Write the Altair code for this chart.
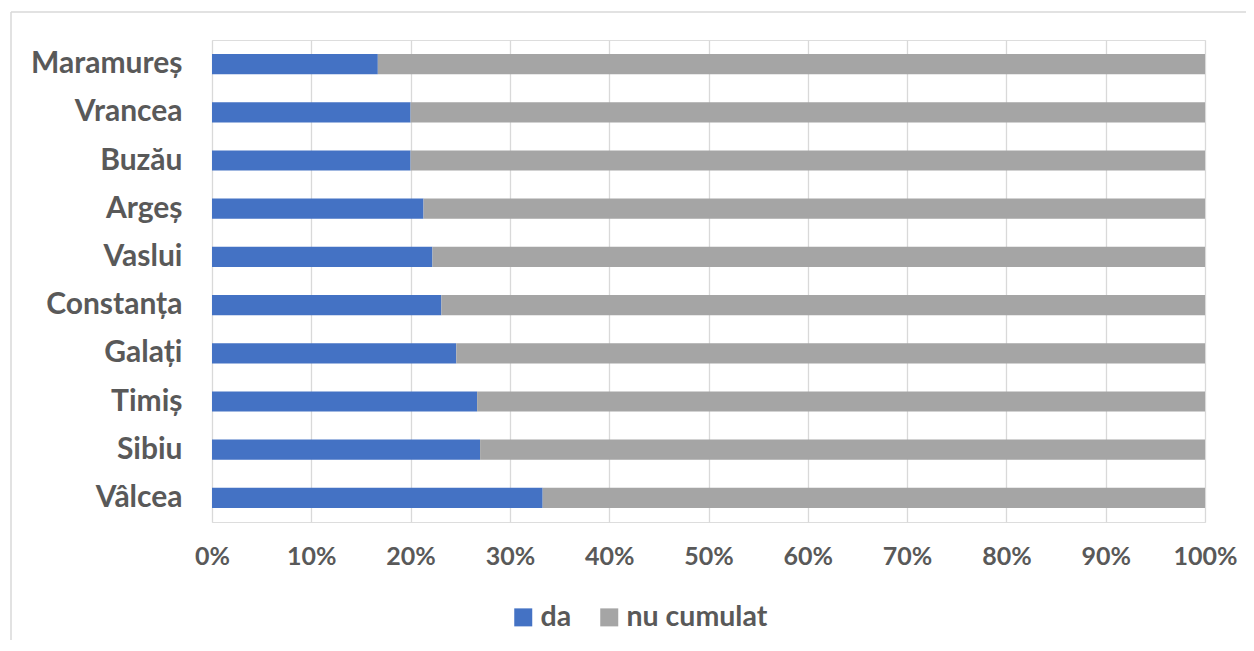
import altair as alt
import pandas as pd

judete = ["Maramureș", "Vrancea", "Buzău", "Argeș", "Vaslui",
          "Constanța", "Galați", "Timiș", "Sibiu", "Vâlcea"]
da = [16.7, 20.0, 20.0, 21.3, 22.2, 23.1, 24.6, 26.7, 27.0, 33.3]
nu_cumulat = [83.3, 80.0, 80.0, 78.7, 77.8, 76.9, 75.4, 73.3, 73.0, 66.7]
series = ["da", "nu cumulat"]
colors = ["#4472C4", "#A5A5A5"]

rows = []
for j, a, b in zip(judete, da, nu_cumulat):
    rows.append({"judet": j, "serie": series[0], "val": a})
    rows.append({"judet": j, "serie": series[1], "val": b})
df = pd.DataFrame(rows)

FONT = "Lato"
LABEL_COLOR = "#595959"

bars = alt.Chart(df).mark_bar().encode(
    y=alt.Y("judet:N", sort=judete, title=None,
            scale=alt.Scale(paddingInner=0.58, paddingOuter=0.29),
            axis=alt.Axis(ticks=False, domain=False, labelPadding=30,
                          labelFont=FONT, labelFontSize=30, labelFontWeight="bold",
                          labelColor=LABEL_COLOR, grid=False)),
    x=alt.X("val:Q", stack="normalize", title=None,
            scale=alt.Scale(domain=[0, 1], nice=False),
            axis=alt.Axis(format=".0%", values=[i / 10 for i in range(11)],
                          ticks=False, domain=False, labelPadding=22,
                          labelFont=FONT, labelFontSize=25, labelFontWeight="bold",
                          labelColor=LABEL_COLOR, grid=True, gridColor="#D9D9D9",
                          gridWidth=1.3, labelFlush=False)),
    color=alt.Color("serie:N", scale=alt.Scale(domain=series, range=colors),
                    legend=alt.Legend(title=None, orient="none", direction="horizontal",
                                      legendX=297, legendY=563, symbolType="square",
                                      symbolSize=324, symbolStrokeWidth=0,
                                      labelFont=FONT, labelFontSize=28.5,
                                      labelFontWeight="bold", labelColor=LABEL_COLOR,
                                      columnPadding=23, labelOffset=3)),
    order=alt.Order("serie:N"),
)

frame_df = pd.DataFrame({"k": [0]})
left_border = alt.Chart(frame_df).mark_rule(color="#D9D9D9", strokeWidth=1.5).encode(
    x=alt.value(-201), y=alt.value(-28), y2=alt.value(640))
top_border = alt.Chart(frame_df).mark_rule(color="#D9D9D9", strokeWidth=1.5).encode(
    x=alt.value(-201), x2=alt.value(1100), y=alt.value(-28))

chart = alt.layer(left_border, top_border, bars).properties(
    width=993, height=482,
    autosize=alt.AutoSizeParams(type="none"),
    padding={"left": 204, "top": 32, "right": 41, "bottom": 118},
).configure_view(stroke=None).configure(background="white")

chart.save("out.html", embed_options={"renderer": "svg", "actions": False})
